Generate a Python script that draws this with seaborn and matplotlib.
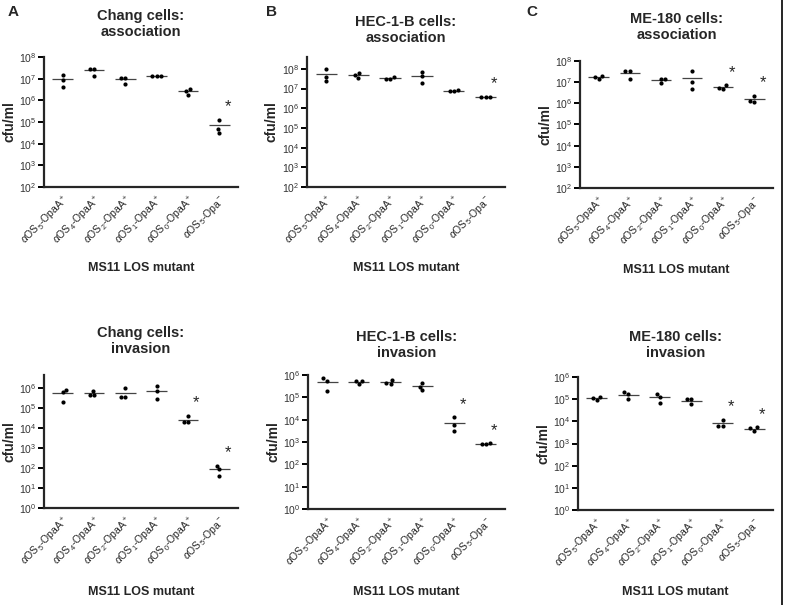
import numpy as np
import pandas as pd
import seaborn as sns
import matplotlib.pyplot as plt
from matplotlib.lines import Line2D
from matplotlib.ticker import FixedLocator, NullLocator

# mutanti (etichette asse x)
mutants = [r"$\alpha$OS$_5$-OpaA$^+$", r"$\alpha$OS$_4$-OpaA$^+$",
           r"$\alpha$OS$_2$-OpaA$^+$", r"$\alpha$OS$_1$-OpaA$^+$",
           r"$\alpha$OS$_0$-OpaA$^+$", r"$\alpha$OS$_5$-Opa$^-$"]

# cfu/ml, tre repliche per mutante
chang_assoc = [[1.5e7, 8.9e6, 4.2e6], [2.9e7, 2.9e7, 1.4e7], [1.1e7, 1.1e7, 5.9e6],
               [1.4e7, 1.3e7, 1.3e7], [3.2e6, 2.7e6, 1.8e6], [1.3e5, 4.9e4, 3.2e4]]
hec_assoc = [[1.0e8, 3.9e7, 2.3e7], [6.0e7, 5.0e7, 3.5e7], [3.9e7, 2.9e7, 3.1e7],
             [7.1e7, 4.3e7, 1.8e7], [8.9e6, 7.2e6, 7.6e6], [3.9e6, 3.5e6, 3.6e6]]
me_assoc = [[1.9e7, 1.4e7, 1.7e7], [3.5e7, 3.4e7, 1.4e7], [1.4e7, 1.4e7, 8.9e6],
            [3.4e7, 1.0e7, 4.7e6], [7.2e6, 5.0e6, 5.2e6], [2.3e6, 1.1e6, 1.3e6]]
chang_inv = [[8.3e5, 6.2e5, 2.0e5], [7.4e5, 4.7e5, 4.7e5], [1.0e6, 3.6e5, 3.6e5],
             [1.2e6, 6.9e5, 2.7e5], [4.0e4, 1.9e4, 1.9e4], [126, 85, 42]]
hec_inv = [[7.1e5, 5.6e5, 2.0e5], [5.6e5, 4.0e5, 5.6e5], [6.0e5, 4.0e5, 4.6e5],
           [4.6e5, 2.1e5, 3.0e5], [1.26e4, 5.8e3, 3.1e3], [850, 840, 860]]
me_inv = [[1.2e5, 9.3e4, 1.15e5], [2.0e5, 1.7e5, 1.0e5], [1.7e5, 1.26e5, 6.6e4],
          [1.0e5, 1.0e5, 5.9e4], [1.2e4, 6.2e3, 6.2e3], [5.4e3, 3.8e3, 4.8e3]]

# mutanti significativi (*)
stars_chang_assoc = [5]
stars_hec_assoc = [5]
stars_me_assoc = [4, 5]
stars_chang_inv = [4, 5]
stars_hec_inv = [4, 5]
stars_me_inv = [4, 5]

sns.set_style("ticks")
plt.rcParams["font.family"] = ["Liberation Sans", "DejaVu Sans"]
plt.rcParams["mathtext.fontset"] = "custom"
plt.rcParams["mathtext.rm"] = "Liberation Sans"
plt.rcParams["mathtext.it"] = "Liberation Sans:italic"
plt.rcParams["mathtext.bf"] = "Liberation Sans:bold"

W, H = 785, 605
fig = plt.figure(figsize=(W / 100, H / 100), dpi=100)


def make_ax(left, right, top, bottom):
    return fig.add_axes([left / W, 1 - bottom / H, (right - left) / W, (bottom - top) / H])


def draw_panel(ax, values, stars, ylim, ticks, title, title_y, xlab_y):
    df = pd.DataFrame({
        "mutant": np.repeat(mutants, 3),
        "cfu": np.concatenate(values),
    })
    sns.swarmplot(data=df, x="mutant", y="cfu", order=mutants, color="black",
                  size=3.0, log_scale=True, ax=ax)
    means = df.groupby("mutant", sort=False)["cfu"].mean()
    for i, m in enumerate(mutants):
        ax.hlines(means[m], i - 0.33, i + 0.33, color="#444444", lw=0.9, zorder=1)
    for i in stars:
        ax.annotate("*", (i, max(values[i])), xytext=(6, 4), textcoords="offset points",
                    fontsize=12, ha="center", va="bottom")
    ax.set_ylim(*ylim)
    ax.set_xlim(-0.6, 5.6)
    ax.yaxis.set_major_locator(FixedLocator([10.0 ** k for k in ticks]))
    ax.yaxis.set_minor_locator(NullLocator())
    ax.tick_params(axis="y", labelsize=7.5, length=4, width=1.4, pad=1.5, colors="black",
                   labelcolor="#333333")
    ax.tick_params(axis="x", length=0, labelsize=7.5, pad=4)
    ax.set_xticks(range(len(mutants)))
    ax.set_xticklabels(mutants, rotation=45, ha="right", rotation_mode="anchor")
    ax.set_xlabel("")
    ax.set_ylabel("cfu/ml", fontsize=10, fontweight="bold")
    bb = ax.get_position()
    ax.yaxis.set_label_coords(-28 / (bb.width * W), 0.5)
    sns.despine(ax=ax)
    for s in ("left", "bottom"):
        ax.spines[s].set_linewidth(1.6)
    cx = (bb.x0 + bb.x1) / 2
    fig.text(cx, 1 - title_y / H, title, ha="center", va="center", fontsize=10.5,
             fontweight="bold", linespacing=1.2)
    fig.text(cx, 1 - xlab_y / H, "MS11 LOS mutant", ha="center", va="center",
             fontsize=9, fontweight="bold")


ax = make_ax(44, 238, 57, 187)
draw_panel(ax, chang_assoc, stars_chang_assoc, (1e2, 1e8), range(2, 9),
           "Chang cells:\nassociation", 24, 268)
ax = make_ax(307, 505, 57, 187)
draw_panel(ax, hec_assoc, stars_hec_assoc, (1e2, 10 ** 8.6), range(2, 9),
           "HEC-1-B cells:\nassociation", 30, 268)
ax = make_ax(580, 773, 61, 188)
draw_panel(ax, me_assoc, stars_me_assoc, (1e2, 1e8), range(2, 9),
           "ME-180 cells:\nassociation", 27, 270)
ax = make_ax(44, 238, 375, 508)
draw_panel(ax, chang_inv, stars_chang_inv, (1, 10 ** 6.65), range(0, 7),
           "Chang cells:\ninvasion", 341, 592)
ax = make_ax(308, 505, 375, 509)
draw_panel(ax, hec_inv, stars_hec_inv, (1, 1e6), range(0, 7),
           "HEC-1-B cells:\ninvasion", 345, 592)
ax = make_ax(578, 773, 377, 510)
draw_panel(ax, me_inv, stars_me_inv, (1, 1e6), range(0, 7),
           "ME-180 cells:\ninvasion", 345, 592)

for letter, x in (("A", 8), ("B", 266), ("C", 526)):
    fig.text(x / W, 1 - 12 / H, letter, ha="left", va="center", fontsize=11,
             fontweight="bold")

fig.add_artist(Line2D([782 / W, 782 / W], [0, 1], color="black", lw=1.2))

fig.savefig("out.png", dpi=100)
